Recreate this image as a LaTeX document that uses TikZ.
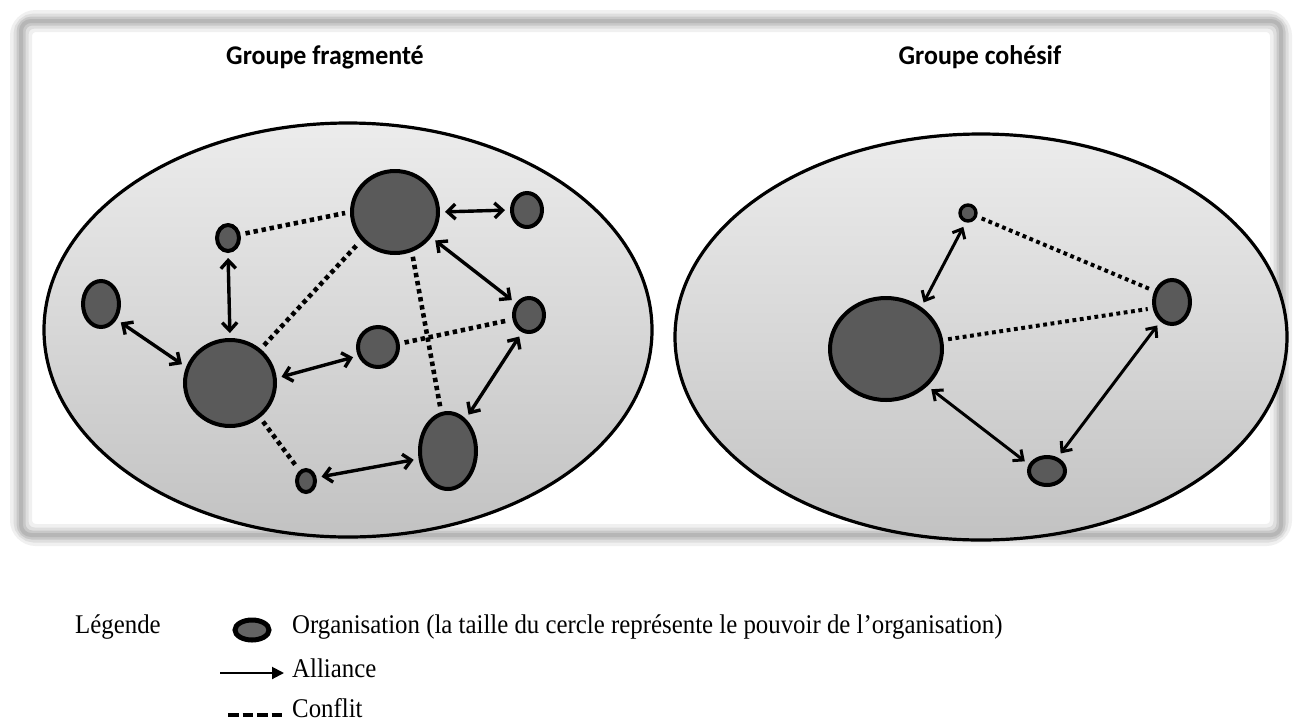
\documentclass[tikz,border=0pt]{standalone}
\usepackage{fontspec}
\setmainfont{Liberation Serif}
\newfontfamily\titlefont[FakeStretch=0.96]{Carlito}
\newfontfamily\legfont[FakeStretch=0.92]{Liberation Serif}
\usetikzlibrary{shapes.geometric,arrows.meta}
\definecolor{orgfill}{RGB}{90,90,90}
\definecolor{ellTop}{RGB}{236,236,236}
\definecolor{ellBot}{RGB}{194,194,194}
\definecolor{frameA}{RGB}{240,240,240}
\definecolor{frameB}{RGB}{222,222,222}
\definecolor{frameC}{RGB}{200,200,200}
\definecolor{frameD}{RGB}{182,182,182}
\definecolor{legfill}{RGB}{100,100,100}
\tikzset{
  org/.style={ellipse, draw=black, line width=4pt, fill=orgfill, inner sep=0pt},
  alli/.style={line width=3.4pt, {Straight Barb[length=8pt,width=15pt]}-{Straight Barb[length=8pt,width=15pt]}, shorten <=5pt, shorten >=5pt},
  allir/.style={line width=3pt, {Straight Barb[length=8pt,width=14pt]}-{Straight Barb[length=8pt,width=14pt]}, shorten <=5pt, shorten >=5pt},
  confl/.style={line width=4.6pt, dash pattern=on 4.4pt off 3.8pt, shorten <=5pt, shorten >=5pt},
  conflr/.style={line width=4pt, dash pattern=on 3.8pt off 3.6pt, shorten <=5pt, shorten >=5pt},
  grp/.style={draw=black, line width=3.2pt, top color=ellTop, bottom color=ellBot},
  ttl/.style={inner sep=0pt, font=\titlefont\bfseries\fontsize{27}{30}\selectfont},
  leg/.style={inner sep=0pt, anchor=base west, font=\legfont\fontsize{27}{30}\selectfont},
}
\begin{document}
\begin{tikzpicture}[x=1pt,y=-1pt]
\useasboundingbox (0,0) rectangle (1299,724);
\fill[white] (0,0) rectangle (1299,724);
% frame
\draw[frameA, line width=22pt, rounded corners=15pt] (21,21) rectangle (1281,535);
\draw[frameB, line width=15pt, rounded corners=13pt] (21,21) rectangle (1281,535);
\draw[frameC, line width=9pt, rounded corners=11pt] (21,21) rectangle (1281,535);
\draw[frameD, line width=4pt, rounded corners=10pt] (21,21) rectangle (1281,535);
% titles
\node[ttl] (t1) at (325,57) {Groupe fragmenté};
\node[ttl] (t2) at (980,57) {Groupe cohésif};
% group ellipses
\path[grp] (348,330) ellipse [x radius=304, y radius=207];
\path[grp] (981,337) ellipse [x radius=306, y radius=203];
% left group nodes
\node[org, minimum width=86pt, minimum height=82pt] (lT) at (395,212) {};
\node[org, minimum width=30pt, minimum height=34pt] (lTR) at (527,210) {};
\node[org, minimum width=22pt, minimum height=26pt] (lTL) at (228,238) {};
\node[org, minimum width=36pt, minimum height=46pt] (lL) at (101,304) {};
\node[org, minimum width=90pt, minimum height=86pt] (lB) at (230,383) {};
\node[org, minimum width=40pt, minimum height=40pt] (lM) at (378,347) {};
\node[org, minimum width=30pt, minimum height=34pt] (lR) at (529,315) {};
\node[org, minimum width=56pt, minimum height=76pt] (lE) at (448,451) {};
\node[org, minimum width=18pt, minimum height=22pt] (lS) at (306,481) {};
% left alliances
\draw[alli] (lT.east) -- (lTR.west);
\draw[alli] (lT.-35) -- (lR.138);
\draw[alli] (lTL.south) -- (lB.north);
\draw[alli] (lL.-45) -- (lB.160);
\draw[alli] (lB.6) -- (lM.204);
\draw[alli] (lR.248) -- (lE.61);
\draw[alli] (lS.18) -- (lE.195);
% left conflicts
\draw[confl] (lTL.16) -- (lT.180);
\draw[confl] (lB.48) -- (lT.220);
\draw[confl] (lM.9) -- (lR.195);
\draw[confl] (lT.293) -- (lE.100);
\draw[confl] (lB.311) -- (lS.122);
% right group nodes
\node[org, line width=3.4pt, minimum width=16pt, minimum height=16pt] (rt) at (968,213) {};
\node[org, minimum width=112pt, minimum height=102pt] (rG) at (886,349) {};
\node[org, minimum width=36pt, minimum height=44pt] (rr) at (1172,302) {};
\node[org, minimum width=36pt, minimum height=28pt] (rb) at (1047,471) {};
% right alliances
\draw[allir] (rt.256) -- (rG.50);
\draw[allir] (rG.318) -- (rb.160);
\draw[allir] (rr.239) -- (rb.52);
% right conflicts
\draw[conflr] (rt.339) -- (rr.148);
\draw[conflr] (rG.9) -- (rr.198);
% legend
\node[leg] (lg) at (75,633) {Légende};
\node[ellipse, draw=black, line width=5pt, fill=legfill, inner sep=0pt, minimum width=34pt, minimum height=20pt] (lgo) at (252,630) {};
\node[leg] (lgot) at (292,633) {Organisation (la taille du cercle représente le pouvoir de l’organisation)};
\coordinate (la1) at (220,673);
\coordinate (la2) at (284,673);
\node[leg] (lgat) at (292,677) {Alliance};
\draw[line width=2pt, -{Triangle[length=12pt,width=12pt]}] (la1) -- (la2);
\coordinate (lc1) at (228,715);
\coordinate (lc2) at (284,715);
\draw[line width=4pt, dash pattern=on 10.5pt off 4pt] (lc1) -- (lc2);
\node[leg] (lgct) at (292,717) {Conflit};
\end{tikzpicture}
\end{document}
